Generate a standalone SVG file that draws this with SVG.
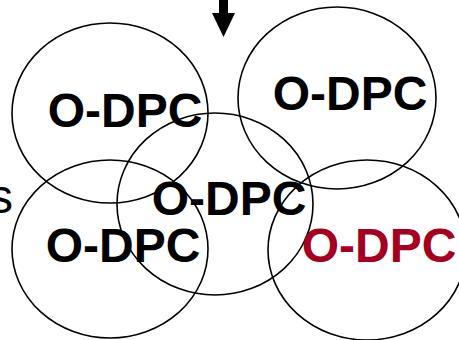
<svg xmlns="http://www.w3.org/2000/svg" width="459" height="340" viewBox="0 0 459 340">
<style>
.c{fill:none;stroke:#000;stroke-width:1.6}
.t{font-family:"Liberation Sans",Arial,sans-serif;font-weight:bold;font-size:48px;text-anchor:middle;fill:#000}
.r{fill:#A50021}
.s{font-family:"Liberation Sans",Arial,sans-serif;font-size:48px;text-anchor:end;fill:#000}
</style>
<rect width="459" height="340" fill="#fff"/>
<g id="connectors">
<polygon points="219,0 228,0 228,13 235,13 223.5,37 212,13 219,13" fill="#000"/>
</g>
<text class="s" x="13" y="213">s</text>
<g id="n1"><ellipse class="c" cx="110" cy="113" rx="98" ry="90"/><text class="t" x="125" y="127">O-DPC</text></g>
<g id="n2"><ellipse class="c" cx="337" cy="98" rx="99" ry="91"/><text class="t" x="350" y="110">O-DPC</text></g>
<g id="n4"><ellipse class="c" cx="110" cy="249" rx="98" ry="89"/><text class="t" x="123" y="262">O-DPC</text></g>
<g id="n3"><ellipse class="c" cx="215" cy="204" rx="98" ry="91"/><text class="t" x="229" y="215">O-DPC</text></g>
<g id="n5"><ellipse class="c" cx="367" cy="250" rx="99" ry="90"/><text class="t r" x="379" y="262">O-DPC</text></g>
</svg>
